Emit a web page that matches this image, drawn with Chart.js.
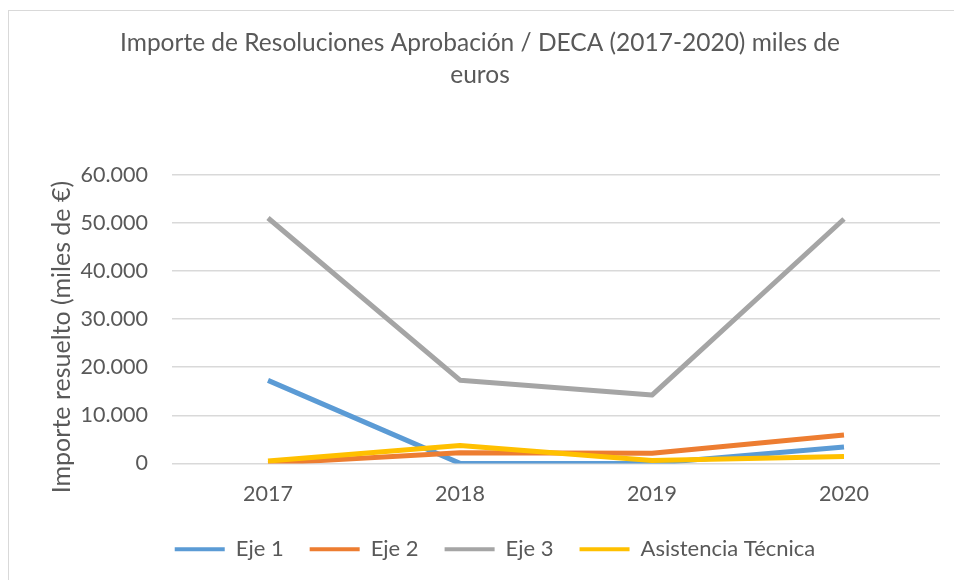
<!DOCTYPE html>
<html>
<head>
<meta charset="utf-8">
<script src="https://cdn.jsdelivr.net/npm/chart.js@4"></script>
<style>
  html, body { margin: 0; padding: 0; background: #ffffff; }
  #wrap { position: relative; width: 954px; height: 580px; overflow: hidden; }
  #frame { position: absolute; left: 8px; top: 10px; width: 960px; height: 600px; border: 1px solid #d9d9d9; box-sizing: border-box; }
  canvas { position: absolute; left: 0; top: 0; }
</style>
</head>
<body>
<div id="wrap">
  <div id="frame"></div>
  <canvas id="c" width="954" height="580"></canvas>
</div>
<script>
const categories = ['2017', '2018', '2019', '2020'];
const seriesNames = ['Eje 1', 'Eje 2', 'Eje 3', 'Asistencia Técnica'];
const eje1 = [17250, 0, 0, 3400];
const eje2 = [0, 2200, 2100, 5900];
const eje3 = [51000, 17300, 14200, 50800];
const asistencia = [500, 3700, 600, 1450];
const colors = ['#5B9BD5', '#ED7D31', '#A5A5A5', '#FFC000'];
const titleLines = ['Importe de Resoluciones Aprobación / DECA (2017-2020) miles de', 'euros'];
const yAxisTitle = 'Importe resuelto (miles de €)';
const yMax = 60000;
const yStep = 10000;

const FONT = 'Lato, "Open Sans", sans-serif';
const TEXT = '#595959';

function fmt(v) {
  if (v === 0) return '0';
  const s = String(Math.round(v));
  return s.replace(/\B(?=(\d{3})+(?!\d))/g, '.');
}

const seriesValues = [eje1, eje2, eje3, asistencia];
const datasets = seriesValues.map((vals, i) => ({
  label: seriesNames[i],
  data: vals,
  borderColor: colors[i],
  backgroundColor: colors[i],
  borderWidth: 5,
  pointRadius: 0,
  pointHoverRadius: 0,
  tension: 0,
  fill: false,
  borderJoinStyle: 'round',
  borderCapStyle: 'butt',
  order: seriesValues.length - 1 - i
}));

// shift the legend slightly to the right, as in the original
const legendShift = {
  id: 'legendShift',
  afterLayout(chart) {
    const lg = chart.legend;
    if (lg) { lg.left += 15; lg.right += 15; }
  }
};

new Chart(document.getElementById('c'), {
  type: 'line',
  data: { labels: categories, datasets },
  plugins: [legendShift],
  options: {
    responsive: false,
    animation: false,
    events: [],
    layout: { padding: { left: 20, right: 14, top: 10, bottom: 9.8 } },
    plugins: {
      tooltip: { enabled: false },
      title: {
        display: true,
        text: titleLines,
        color: TEXT,
        font: { family: FONT, size: 24.5, weight: 'normal', lineHeight: 1.27 },
        padding: { top: 18, bottom: 84.5 }
      },
      legend: {
        position: 'bottom',
        labels: {
          color: TEXT,
          font: { family: FONT, size: 22 },
          boxWidth: 50,
          boxHeight: 4,
          padding: 26,
          generateLabels: (chart) => chart.data.datasets.map((ds, i) => ({
            text: ds.label,
            fillStyle: ds.borderColor,
            strokeStyle: ds.borderColor,
            lineWidth: 0,
            hidden: false,
            datasetIndex: i,
            fontColor: TEXT
          }))
        }
      }
    },
    scales: {
      x: {
        offset: true,
        grid: { display: false, drawTicks: false },
        border: { display: false },
        ticks: { color: TEXT, font: { family: FONT, size: 21.5 }, padding: 18, maxRotation: 0 },
        afterFit: (s) => { s.height = 48.8; }
      },
      y: {
        min: 0,
        max: yMax,
        grid: { color: '#d9d9d9', lineWidth: 1.5, drawTicks: false },
        border: { display: false },
        ticks: { stepSize: yStep, color: TEXT, font: { family: FONT, size: 21.5 }, padding: 24, callback: (v) => fmt(v) },
        title: { display: true, text: yAxisTitle, color: TEXT, font: { family: FONT, size: 25 }, padding: { top: 27, bottom: 0 } },
        afterFit: (s) => {
          s.width = 152;
          if (!s._shiftedTitle) {
            const orig = s.drawTitle;
            s.drawTitle = function () {
              this.ctx.save();
              this.ctx.translate(0, 18);
              orig.call(this);
              this.ctx.restore();
            };
            s._shiftedTitle = true;
          }
        }
      }
    }
  }
});
</script>
</body>
</html>
